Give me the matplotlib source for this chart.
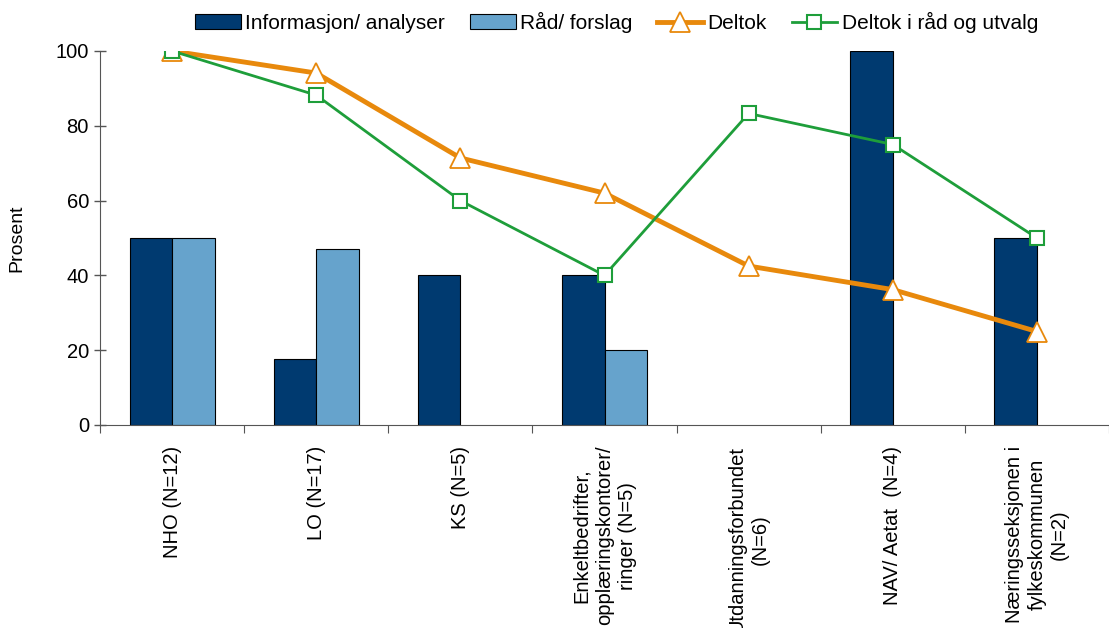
import matplotlib
matplotlib.use("Agg")
import matplotlib.pyplot as plt
import numpy as np

plt.rcParams['font.family'] = ['Liberation Sans', 'DejaVu Sans']

categories = ["NHO (N=12)", "LO (N=17)", "KS (N=5)",
              "Enkeltbedrifter,\nopplæringskontorer/\nringer (N=5)",
              "Utdanningsforbundet\n(N=6)", "NAV/ Aetat  (N=4)",
              "Næringsseksjonen i\nfylkeskommunen\n(N=2)"]
info = [50, 17.6, 40, 40, 0, 100, 50]
raad = [50, 47.1, 0, 20, 0, 0, 0]
deltok = [100, 94.1, 71.4, 62, 42.5, 36.2, 25]
deltok_raad = [100, 88.2, 60, 40, 83.3, 75, 50]

fig = plt.figure(figsize=(11.09, 6.28), dpi=100)
W, H = 1109, 628
ax = fig.add_axes([100 / W, 1 - 425 / H, 1009 / W, (425 - 51) / H])

x = np.arange(len(categories))
bw = 0.295
info_a = np.array(info, dtype=float)
raad_a = np.array(raad, dtype=float)
mi = info_a > 0
mr = raad_a > 0
ax.bar(x[mi] - bw / 2, info_a[mi], bw, color="#003A70", edgecolor="black", linewidth=0.8,
       label="Informasjon/ analyser", zorder=2)
ax.bar(x[mr] + bw / 2, raad_a[mr], bw, color="#66A3CC", edgecolor="black", linewidth=0.8,
       label="Råd/ forslag", zorder=2)
ax.plot(x, deltok, color="#E8890C", linewidth=3.5, marker="^", markersize=14,
        markerfacecolor="white", markeredgecolor="#E8890C", markeredgewidth=1.3,
        label="Deltok", zorder=3)
ax.plot(x, deltok_raad, color="#1E9E3A", linewidth=2, marker="s", markersize=10,
        markerfacecolor="white", markeredgecolor="#1E9E3A", markeredgewidth=1.5,
        label="Deltok i råd og utvalg", zorder=4)

ax.set_xlim(-0.5, -0.5 + 1009 / 145)
ax.set_ylim(0, 100)
ax.set_yticks([0, 20, 40, 60, 80, 100])
ax.tick_params(axis='y', labelsize=14.5, length=8, direction='inout', width=1, color='#555555', pad=4)
ax.set_xticks(np.arange(0, 8) - 0.5, minor=False)
ax.set_xticklabels([])
ax.tick_params(axis='x', which='major', length=6, direction='out', color='#555555')
ax.set_xticks(x, minor=True)
ax.set_xticklabels(categories, minor=True, rotation=90, fontsize=14.5,
                   ha='center', va='top', multialignment='center', linespacing=1.25)
ax.tick_params(axis='x', which='minor', length=0, pad=15)

for s in ['top', 'right']:
    ax.spines[s].set_visible(False)
ax.spines['left'].set_color('#555555')
ax.spines['bottom'].set_color('#555555')
ax.set_ylabel("Prosent", fontsize=14, labelpad=22)

h, l = ax.get_legend_handles_labels()
order = [2, 3, 0, 1]
h = [h[i] for i in order]
l = [l[i] for i in order]
ax.legend(h, l, loc='lower left', bbox_to_anchor=(195 / W, 1 - 33 / H), bbox_transform=fig.transFigure,
          ncol=4, frameon=False, fontsize=15, handlelength=2.2, handletextpad=0.2,
          columnspacing=1.2, borderaxespad=0, borderpad=0)

fig.savefig("out.png", dpi=100)
